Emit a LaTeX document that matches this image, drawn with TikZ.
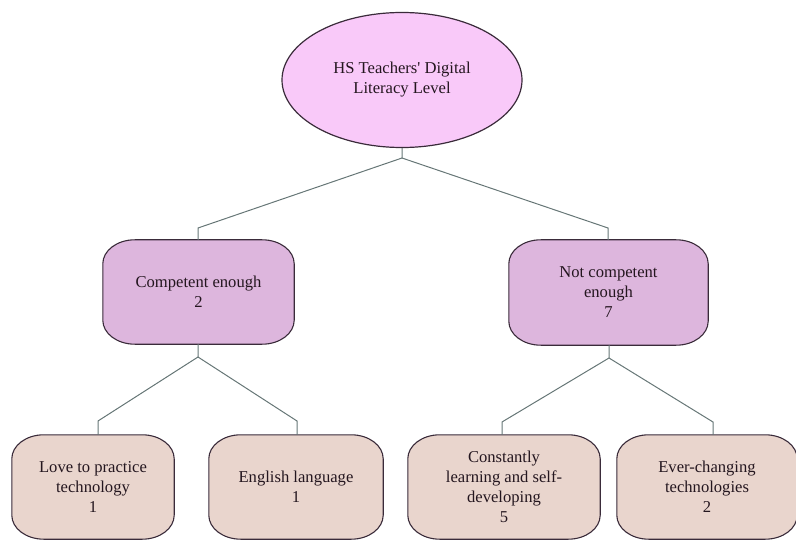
\documentclass[tikz,border=0pt]{standalone}
\usepackage{fontspec}
\setmainfont{Liberation Serif}
\newfontfamily\boxface{Liberation Serif}
\usetikzlibrary{shapes.geometric,backgrounds}

\definecolor{rootfill}{HTML}{F9C9F9}
\definecolor{midfill}{HTML}{DDB6DD}
\definecolor{leaffill}{HTML}{E9D5CD}
\definecolor{edgeline}{HTML}{3A2B3A}
\definecolor{linkline}{HTML}{667676}
\definecolor{inkcol}{HTML}{24161F}

\tikzset{
  x=1pt, y=1pt,
  label text/.style={font=\boxface\fontsize{16.6}{20}\selectfont, text=inkcol, align=center, inner sep=0pt},
  rootnode/.style={label text, ellipse, draw=edgeline, fill=rootfill, line width=1.2pt,
                   minimum width=240pt, minimum height=135pt},
  boxnode/.style={label text, rectangle, minimum height=104pt},
  midshape/.style={draw=edgeline, fill=midfill, line width=1.1pt},
  leafshape/.style={draw=edgeline, fill=leaffill, line width=1.1pt},
  link/.style={draw=linkline, line width=1pt},
  % rectangle with elliptical corners drawn round a named node
  softrect/.style={insert path={
    ([xshift=32pt]#1.north west) -- ([xshift=-32pt]#1.north east)
    arc[start angle=90, end angle=0, x radius=32pt, y radius=24pt]
    -- ([yshift=24pt]#1.south east)
    arc[start angle=0, end angle=-90, x radius=32pt, y radius=24pt]
    -- ([xshift=32pt]#1.south west)
    arc[start angle=270, end angle=180, x radius=32pt, y radius=24pt]
    -- ([yshift=-24pt]#1.north west)
    arc[start angle=180, end angle=90, x radius=32pt, y radius=24pt]
    -- cycle}}
}

\begin{document}
\begin{tikzpicture}
\useasboundingbox (0,0) rectangle (796,542);
\clip (0,0) rectangle (796,542);

% top node
\node[rootnode] (root) at (402,462) {HS Teachers\textquotesingle{} Digital\\Literacy Level};

% second level
\node[boxnode, minimum width=191pt] (c1) at (198.5,250) {Competent enough\\2};
\node[boxnode, minimum width=199pt, minimum height=105pt] (c2) at (608.5,249.5) {Not competent\\enough\\7};

% third level
\node[boxnode, minimum width=162pt] (l1) at (93,55) {Love to practice\\technology\\1};
\node[boxnode, minimum width=174pt] (l2) at (296,55) {English language\\1};
\node[boxnode, minimum width=192pt] (l3) at (504,55) {Constantly\\learning and self-\\developing\\5};
\node[boxnode, minimum width=180pt] (l4) at (707,55) {Ever-changing\\technologies\\2};

% box outlines behind the texts
\begin{scope}[on background layer]
  \draw[midshape, softrect=c1];
  \draw[midshape, softrect=c2];
  \draw[leafshape, softrect=l1];
  \draw[leafshape, softrect=l2];
  \draw[leafshape, softrect=l3];
  \draw[leafshape, softrect=l4];
\end{scope}

% branching points
\coordinate (j0) at (402,384);
\coordinate (b1) at (198,314);
\coordinate (b2) at (608,314);
\coordinate (j1) at (198,185);
\coordinate (j2) at (609,184);
\coordinate (k1) at (98,121);
\coordinate (k2) at (297,121);
\coordinate (k3) at (502,120);
\coordinate (k4) at (713,120);

% connectors
\draw[link] (root.south) -- (j0) -- (b1) -- (b1 |- c1.north);
\draw[link] (j0) -- (b2) -- (b2 |- c2.north);
\draw[link] (c1.south -| j1) -- (j1) -- (k1) -- (k1 |- l1.north);
\draw[link] (j1) -- (k2) -- (k2 |- l2.north);
\draw[link] (c2.south -| j2) -- (j2) -- (k3) -- (k3 |- l3.north);
\draw[link] (j2) -- (k4) -- (k4 |- l4.north);
\end{tikzpicture}
\end{document}
